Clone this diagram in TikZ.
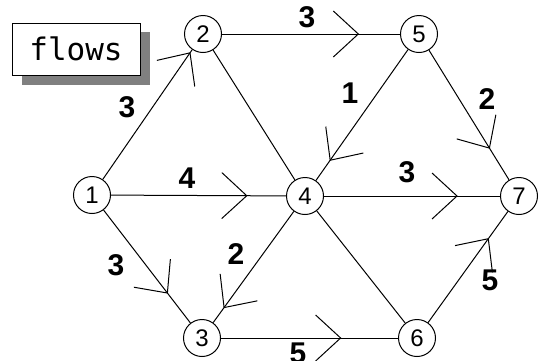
\documentclass[tikz,border=0pt]{standalone}
\usepackage{fontspec}
\setmainfont{Liberation Sans}
\setmonofont{DejaVu Sans Mono}
\usetikzlibrary{arrows.meta,decorations.markings}

\tikzset{
  vertex/.style={circle, draw, line width=1pt, minimum size=37pt, inner sep=0pt,
    font=\fontsize{24}{24}\selectfont},
  flow/.style={line width=1pt, postaction={decorate},
    decoration={markings, mark=at position #1 with
      {\arrow{Straight Barb[length=25pt,width=46pt,line width=1pt]}}}},
  flow/.default=0.76,
  weight/.style={font=\bfseries\fontsize{30}{30}\selectfont, inner sep=0pt},
}

\begin{document}
\begin{tikzpicture}[x=1pt, y=-1pt]
    \useasboundingbox (0,0) rectangle (539,360);

    % legend
    \fill[black!50] (22,32) rectangle (150,85);
    \node[draw, fill=white, line width=1pt, minimum width=128pt, minimum height=52pt,
      font=\ttfamily\fontsize{31}{31}\selectfont] (legend) at (76,49) {flows};

    % vertices
    \node[vertex] (v1) at (92,195) {1};
    \node[vertex] (v2) at (203,34) {2};
    \node[vertex] (v3) at (202,338) {3};
    \node[vertex] (v4) at (305,196) {4};
    \node[vertex] (v5) at (419,34) {5};
    \node[vertex] (v6) at (417,338) {6};
    \node[vertex] (v7) at (519,196) {7};

    % flows
    \draw[flow=0.98] (v1) -- (v2);
    \draw[flow=0.78] (v1) -- (v4);
    \draw[flow=0.74] (v1) -- (v3);
    \draw[flow=0.77] (v2) -- (v5);
    \draw[line width=1pt] (v2) -- (v4);
    \draw[flow=0.85] (v5) -- (v4);
    \draw[flow] (v5) -- (v7);
    \draw[flow] (v4) -- (v7);
    \draw[flow=0.87] (v4) -- (v3);
    \draw[line width=1pt] (v4) -- (v6);
    \draw[flow=0.68] (v3) -- (v6);
    \draw[flow] (v6) -- (v7);

    % weights
    \node[weight] (w12) at (127,107) {3};
    \node[weight] (w14) at (187,178) {4};
    \node[weight] (w13) at (116,265) {3};
    \node[weight] (w25) at (307,17) {3};
    \node[weight] (w54) at (350,93) {1};
    \node[weight] (w57) at (487,99) {2};
    \node[weight] (w47) at (407,172) {3};
    \node[weight] (w43) at (236,254) {2};
    \node[weight] (w67) at (490,280) {5};
    \node[weight] (w36) at (298,353) {5};
\end{tikzpicture}
\end{document}
